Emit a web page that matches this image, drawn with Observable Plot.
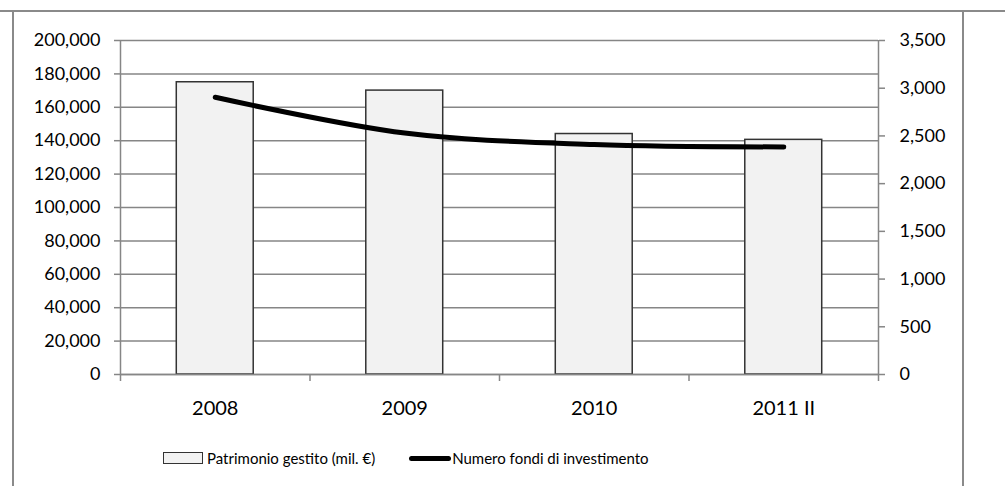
<!DOCTYPE html>
<html>
<head>
<meta charset="utf-8">
<script src="https://cdn.jsdelivr.net/npm/d3@7"></script>
<script src="https://cdn.jsdelivr.net/npm/@observablehq/plot@0.6"></script>
<style>
  html, body { margin: 0; padding: 0; background: #fff; }
  #wrap { position: relative; width: 1005px; height: 486px; overflow: hidden; font-family: Lato, "Open Sans", sans-serif; }
  #chart { position: absolute; left: 0; top: 0; }
  .hline { position: absolute; left: 0; top: 10px; width: 1005px; height: 0; border-top: 2px solid #8a8a8a; }
  .vline { position: absolute; top: 10px; width: 0; height: 480px; border-left: 2px solid #8a8a8a; }
  #legend { position: absolute; top: 449px; left: 163px; font-size: 15px; color: #000; display: flex; align-items: center; white-space: nowrap; }
  .sw-bar { display: inline-block; width: 40px; height: 12px; background: #f2f2f2; border: 1px solid #333; box-sizing: border-box; margin-right: 4px; }
  .sw-line { display: inline-block; width: 42px; height: 5px; background: #000; border-radius: 3px; margin-left: 34px; margin-right: 1px; }
</style>
</head>
<body>
<div id="wrap">
  <div id="chart"></div>
  <div class="hline"></div>
  <div class="vline" style="left:12px"></div>
  <div class="vline" style="left:962px"></div>
  <div id="legend"></div>
</div>
<script>
const categories = ["2008", "2009", "2010", "2011 II"];
const patrimonio = [175000, 170000, 144000, 140500];
const numeroFondi = [2905, 2530, 2410, 2385];
const leftTicks = [0, 20000, 40000, 60000, 80000, 100000, 120000, 140000, 160000, 180000, 200000];
const rightTicks = [0, 500, 1000, 1500, 2000, 2500, 3000, 3500];
const seriesNames = ["Patrimonio gestito (mil. €)", "Numero fondi di investimento"];

const leftMax = 200000, rightMax = 3500;
const k = leftMax / rightMax;
const barWidth = 0.406;
const fmt = d3.format(",");

const data = categories.map((c, i) => ({ i, cat: c, pat: patrimonio[i], num: numeroFondi[i] }));
const boundaries = d3.range(-0.5, categories.length, 1);

const chart = Plot.plot({
  width: 1005,
  height: 486,
  marginLeft: 120,
  marginRight: 127,
  marginTop: 40,
  marginBottom: 112,
  style: { fontFamily: "Lato, 'Open Sans', sans-serif", fontSize: "18px", color: "#000", background: "transparent" },
  x: { type: "linear", domain: [-0.5, categories.length - 0.5] },
  y: { type: "linear", domain: [0, leftMax] },
  marks: [
    Plot.ruleY(leftTicks, { y: d => d, stroke: "#868686", strokeWidth: 1.5, strokeOpacity: 1 }),
    Plot.ruleX([-0.5, categories.length - 0.5], { x: d => d, y1: 0, y2: leftMax, stroke: "#868686", strokeWidth: 1.5, strokeOpacity: 1 }),
    Plot.axisY({ anchor: "left", ticks: leftTicks, tickFormat: fmt, tickSize: 6, tickPadding: 14, stroke: "#868686", strokeWidth: 1.5, strokeOpacity: 1, label: null, fontSize: 18 }),
    Plot.axisY({ anchor: "right", ticks: rightTicks.map(v => v * k), tickFormat: d => fmt(Math.round(d / k)), tickSize: 6, tickPadding: 15, stroke: "#868686", strokeWidth: 1.5, strokeOpacity: 1, label: null, fontSize: 18 }),
    Plot.axisX({ ticks: boundaries, tickFormat: () => "", tickSize: 7, stroke: "#868686", strokeWidth: 1.5, strokeOpacity: 1, label: null }),
    Plot.axisX({ ticks: d3.range(categories.length), tickFormat: i => categories[i], tickSize: 0, tickPadding: 26, label: null, fontSize: 20 }),
    Plot.rectY(data, { x1: d => d.i - barWidth / 2, x2: d => d.i + barWidth / 2, y: "pat", fill: "#f2f2f2", stroke: "#333", strokeWidth: 1.5 }),
    Plot.line(data, { x: "i", y: d => d.num * k, stroke: "#000", strokeWidth: 5, curve: "catmull-rom", strokeLinecap: "round" }),
    Plot.ruleY([0], { stroke: "#868686", strokeWidth: 1.5 })
  ]
});
document.getElementById("chart").appendChild(chart);

const legend = document.getElementById("legend");
legend.innerHTML = `<span class="sw-bar"></span><span>${seriesNames[0]}</span><span class="sw-line"></span><span>${seriesNames[1]}</span>`;
</script>
</body>
</html>
